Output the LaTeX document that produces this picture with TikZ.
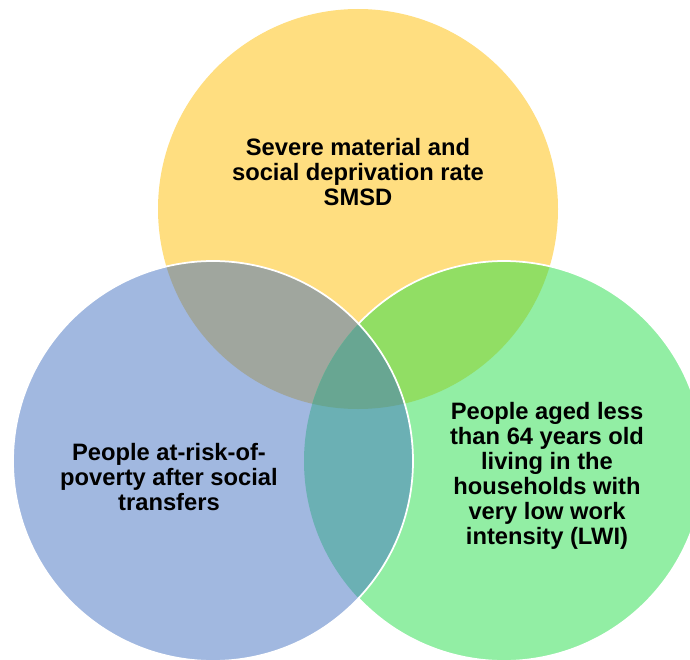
\documentclass[tikz,border=0pt]{standalone}
\usepackage{fontspec}
\setmainfont{Liberation Sans}
\usepackage{tikz}
\usetikzlibrary{calc}
\definecolor{smsdyellow}{RGB}{255,222,128}
\definecolor{aropblue}{RGB}{161,184,224}
\definecolor{lwigreen}{RGB}{146,238,164}
\definecolor{overlapgrey}{RGB}{160,166,158}
\definecolor{overlaplime}{RGB}{145,222,100}
\definecolor{overlapteal}{RGB}{107,176,180}
\definecolor{overlapcentre}{RGB}{104,166,146}
\tikzset{venntext/.style={font=\fontsize{13.5}{14.2}\selectfont\bfseries,align=center,text=black}}

\begin{document}
\begin{tikzpicture}
  \clip (0,0) rectangle (13.8,13.18);
  \coordinate (smsd) at (7.16,9.00);
  \coordinate (arop) at (4.26,3.96);
  \coordinate (lwi) at (10.08,3.96);
  % the three circles
  \fill[smsdyellow] (smsd) circle (4);
  \fill[lwigreen] (lwi) circle (4);
  \fill[aropblue] (arop) circle (4);
  % overlaps with the top circle
  \begin{scope}
    \clip (smsd) circle (4);
    \fill[overlapgrey] (arop) circle (4);
    \fill[overlaplime] (lwi) circle (4);
  \end{scope}
  \draw[white,line width=1pt] (lwi) ++(136.7:4) arc[start angle=136.7,end angle=-136.7,radius=4];
  % overlaps of the two lower circles
  \begin{scope}
    \clip (arop) circle (4);
    \fill[overlapteal] (lwi) circle (4);
    \clip (smsd) circle (4);
    \fill[overlapcentre] (lwi) circle (4);
  \end{scope}
  \draw[white,line width=1pt] (arop) circle (4);
  \node[venntext] (smsdtext) at (7.16,9.74) {Severe material and\\social deprivation rate\\SMSD};
  \node[venntext] (aroptext) at (3.38,3.64) {People at-risk-of-\\poverty after social\\transfers};
  \node[venntext] (lwitext) at (10.94,3.66) {People aged less\\than 64 years old\\living in the\\households with\\very low work\\intensity (LWI)};
\end{tikzpicture}
\end{document}
